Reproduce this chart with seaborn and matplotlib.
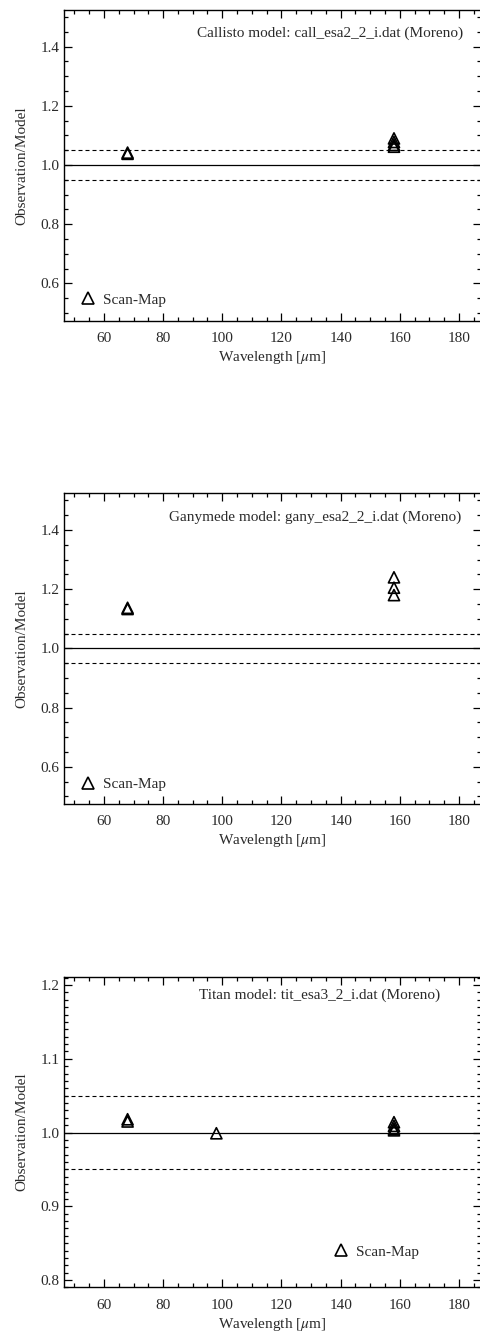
import numpy as np
import pandas as pd
import matplotlib
matplotlib.use("Agg")
import matplotlib.pyplot as plt
from matplotlib.lines import Line2D
from matplotlib.ticker import MultipleLocator
import seaborn as sns

# Observation / model ratios, Scan-Map photometry
callisto_wave = [68, 68, 158, 158, 158, 158]
callisto_ratio = [1.042, 1.038, 1.090, 1.078, 1.068, 1.062]

ganymede_wave = [68, 68, 158, 158, 158]
ganymede_ratio = [1.137, 1.133, 1.240, 1.205, 1.180]

titan_wave = [68, 68, 98, 158, 158, 158, 158]
titan_ratio = [1.018, 1.015, 0.999, 1.014, 1.009, 1.005, 1.003]

titles = [
    "Callisto model: call_esa2_2_i.dat (Moreno)",
    "Ganymede model: gany_esa2_2_i.dat (Moreno)",
    "Titan model: tit_esa3_2_i.dat (Moreno)",
]
x_ticks = [60, 80, 100, 120, 140, 160, 180]
legend_label = "Scan-Map"

sns.set_theme(style="ticks")
plt.rcParams["font.family"] = ["Liberation Serif", "DejaVu Serif"]
plt.rcParams["mathtext.fontset"] = "stix"
plt.rcParams["text.color"] = "#2a2a2a"
plt.rcParams["axes.labelcolor"] = "#2a2a2a"
plt.rcParams["xtick.color"] = "black"
plt.rcParams["ytick.color"] = "black"
plt.rcParams["xtick.labelcolor"] = "#2a2a2a"
plt.rcParams["ytick.labelcolor"] = "#2a2a2a"

W, H = 480, 1338
fig = plt.figure(figsize=(W / 100, H / 100), dpi=100)

panels = [
    dict(wave=callisto_wave, ratio=callisto_ratio, top=10, ylim=(0.474, 1.524),
         major=0.2, minor=0.05, title_xy=(0.957, 0.926), leg_xy=(0.039, 0.067)),
    dict(wave=ganymede_wave, ratio=ganymede_ratio, top=493.3, ylim=(0.474, 1.524),
         major=0.2, minor=0.05, title_xy=(0.953, 0.923), leg_xy=(0.039, 0.063)),
    dict(wave=titan_wave, ratio=titan_ratio, top=976.7, ylim=(0.790, 1.2113),
         major=0.1, minor=0.01, title_xy=(0.903, 0.941), leg_xy=(0.645, 0.115)),
]

left_px, right_px, height_px = 64, 481, 310.7

for p, title in zip(panels, titles):
    bottom = 1 - (p["top"] + height_px) / H
    ax = fig.add_axes([left_px / W, bottom, (right_px - left_px) / W, height_px / H])

    df = pd.DataFrame({"wavelength": p["wave"], "ratio": p["ratio"]})

    ax.axhline(1.0, color="black", lw=0.9, zorder=1)
    ax.axhline(1.05, color="black", lw=0.8, dashes=(3.6, 2.7), zorder=1)
    ax.axhline(0.95, color="black", lw=0.8, dashes=(3.6, 2.7), zorder=1)

    sns.scatterplot(data=df, x="wavelength", y="ratio", ax=ax, marker="^",
                    s=64, facecolor="none", edgecolor="black", linewidth=1.2,
                    zorder=3, legend=False)

    ax.set_xlim(46.52, 187.4)
    ax.set_ylim(*p["ylim"])
    ax.set_xticks(x_ticks)
    ax.xaxis.set_minor_locator(MultipleLocator(5))
    ax.yaxis.set_major_locator(MultipleLocator(p["major"]))
    ax.yaxis.set_minor_locator(MultipleLocator(p["minor"]))
    ax.yaxis.set_major_formatter(matplotlib.ticker.FormatStrFormatter("%.1f"))

    ax.tick_params(which="both", direction="in", top=True, right=True,
                   labelsize=11, width=0.9)
    ax.tick_params(which="major", length=6)
    ax.tick_params(which="minor", length=3)
    ax.tick_params(axis="x", which="major", pad=8)
    ax.tick_params(axis="y", which="major", pad=3)

    for sp in ax.spines.values():
        sp.set_linewidth(1.0)
        sp.set_color("black")

    ax.set_xlabel(r"Wavelength [$\mu$m]", fontsize=11, labelpad=3)
    ax.set_ylabel("Observation/Model", fontsize=11, labelpad=9)

    ax.text(*p["title_xy"], title, transform=ax.transAxes, ha="right",
            va="center", fontsize=11)

    handle = Line2D([], [], marker="^", ls="", markersize=8, mfc="none",
                    mec="black", mew=1.2)
    ax.legend([handle], [legend_label], loc="center left",
              bbox_to_anchor=p["leg_xy"], frameon=False, handlelength=1.0,
              handletextpad=0.5, borderpad=0, borderaxespad=0, fontsize=11)

fig.savefig("out.png", dpi=100)
